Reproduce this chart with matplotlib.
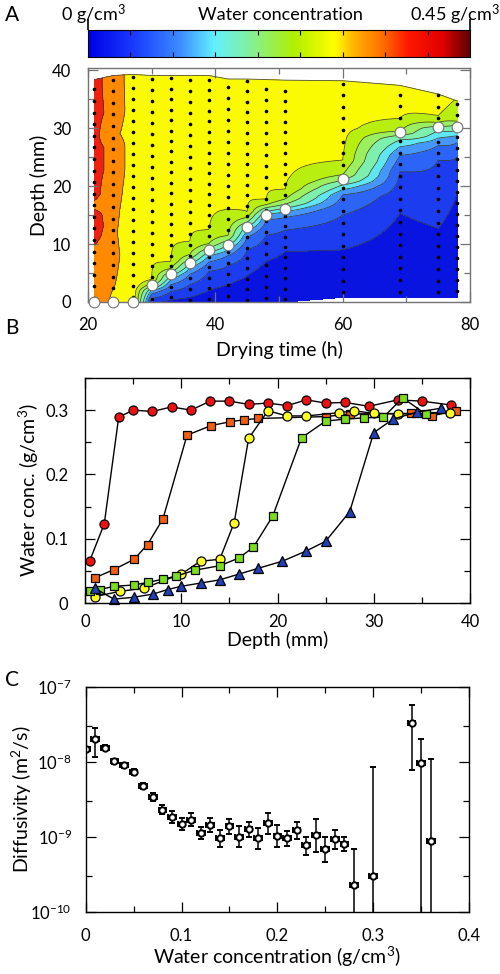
import matplotlib
matplotlib.use('Agg')
import matplotlib.pyplot as plt
import numpy as np
from matplotlib.colors import LinearSegmentedColormap
from matplotlib.ticker import MultipleLocator, FixedLocator, NullFormatter

plt.rcParams['font.family'] = ['Lato', 'DejaVu Sans']
plt.rcParams['mathtext.fontset'] = 'custom'
plt.rcParams['mathtext.rm'] = 'Lato'
plt.rcParams['mathtext.it'] = 'Lato:italic'
plt.rcParams['mathtext.bf'] = 'Lato:bold'
plt.rcParams['font.size'] = 12

nan = np.nan

# ---- panel A: water concentration map (drying time x depth)
times = np.array([21, 24, 27, 30, 33, 36, 39, 42, 45, 48, 51, 60, 69, 75, 78])
top_depth = np.array([38.4, 39.1, 39.3, 39.1, 39.1, 39.1, 39.1, 38.5, 38.5, 38.4, 38.3, 38.2, 37.4, 35.9, 34.7])
bottom_depth = np.array([0, 0, 0, 0, 0, 0, 0, 0, 0, 0, 0, 0.8, 0.8, 0.8, 0.8])
front_depth = np.array([0, 0, 0, 2.9, 4.8, 6.8, 9.0, 9.9, 13.0, 15.1, 16.0, 21.2, 29.3, 30.2, 30.2])
c_bulk = np.array([nan, nan, 0.30, 0.30, 0.30, 0.30, 0.30, 0.30, 0.30, 0.30, 0.30, 0.30, 0.30, 0.30, 0.265])
c_dry = np.array([nan, nan, 0.30, 0.05, 0.04, 0.032, 0.028, 0.022, 0.018, 0.012, 0.015, 0.018, 0.02, 0.02, 0.02])
dot_step = np.array([2.0, 2.0, 1.9, 1.9, 1.8, 1.9, 1.8, 1.9, 1.8, 1.9, 1.8, 2.0, 2.0, 2.0, 1.9])
dot_start = np.array([0.7, 0.4, 0.9, 0.5, 0.8, 0.3, 0.6, 1.0, 0.4, 0.7, 0.5, 0.9, 1.0, 0.9, 1.1])

# depth at which the profile crosses each contour level
z045 = np.array([nan, nan, nan, nan, 0.3, 0.8, 2.0, 3.0, 4.5, 7.0, 8.7, 9.0, 15.3, 12.7, 18.8])
z070 = np.array([nan, nan, nan, 0.6, 1.8, 3.0, 5.3, 6.3, 9.0, 11.5, 12.4, 15.0, 22.5, 24.5, 25.0])
z100 = np.array([nan, nan, nan, 1.4, 3.0, 4.8, 6.9, 8.0, 11.2, 14.2, 14.6, 18.5, 25.3, 27.0, 27.5])
z130 = np.array([nan, nan, nan, 2.0, 3.8, 5.8, 8.0, 9.0, 12.3, 15.2, 15.6, 19.4, 26.8, 28.3, 28.7])
z160 = np.array([nan, nan, nan, 2.3, 4.6, 6.6, 8.6, 9.8, 13.0, 15.7, 16.2, 20.2, 28.0, 29.5, 29.6])
z200 = np.array([nan, nan, nan, 2.7, 5.2, 7.4, 9.3, 10.6, 13.8, 16.3, 16.9, 21.0, 28.8, 30.3, 30.5])
z235 = np.array([nan, nan, nan, 3.2, 5.8, 8.2, 10.1, 11.5, 14.6, 16.8, 17.8, 22.0, 29.5, 31.0, 31.2])
z270 = np.array([nan, nan, nan, 3.9, 7.0, 10.5, 12.5, 16.0, 15.6, 17.8, 19.5, 24.5, 31.7, 32.2, nan])

# first two (wettest) columns
col21_depth = [0, 9, 11.5, 13, 15, 16.5, 18.5, 38.4]
col21_conc = [0.35, 0.35, 0.38, 0.39, 0.38, 0.35, 0.37, 0.37]
col24_depth = [0, 3, 8, 12, 16, 20, 23, 27, 29, 33, 38, 39.1]
col24_conc = [0.31, 0.322, 0.33, 0.325, 0.33, 0.34, 0.35, 0.35, 0.33, 0.35, 0.345, 0.345]

band_levels = [0, 0.045, 0.07, 0.10, 0.13, 0.16, 0.20, 0.235, 0.27, 0.32, 0.36, 0.45]
band_colors = ['#0a14e0', '#1c3cf0', '#2c64f8', '#4696ff', '#5ee6f2', '#7df0b0',
               '#9cf060', '#b8ef10', '#fafa00', '#ff8a00', '#ee2010']
cross_levels = band_levels[1:9]
cross_depths = [z045, z070, z100, z130, z160, z200, z235, z270]

# ---- panel B: profiles (depth mm, g/cm3)
red_depth = [0.5, 2, 3.5, 5, 7, 9, 11, 13, 15, 17, 19, 21, 23, 25, 27, 29.5, 32.5, 35, 38]
red_conc = [0.066, 0.123, 0.289, 0.300, 0.298, 0.305, 0.300, 0.314, 0.314, 0.309, 0.311,
            0.307, 0.316, 0.311, 0.312, 0.306, 0.316, 0.314, 0.308]
orange_depth = [1.0, 3.0, 5.1, 6.5, 8.1, 10.6, 13.1, 15.1, 16.5, 18.0, 25.0, 27.5, 33.9, 36.0, 38.5]
orange_conc = [0.039, 0.052, 0.068, 0.091, 0.131, 0.261, 0.276, 0.282, 0.285, 0.287,
               0.290, 0.294, 0.295, 0.291, 0.299]
yellow_depth = [1.0, 3.6, 6.1, 10.0, 12.0, 14.0, 15.5, 17.0, 19.0, 21.0, 23.0, 26.4, 27.9, 30.0, 32.5, 37.9]
yellow_conc = [0.010, 0.018, 0.023, 0.045, 0.065, 0.068, 0.125, 0.256, 0.299, 0.291,
               0.291, 0.296, 0.299, 0.295, 0.294, 0.296]
green_depth = [0.5, 1.6, 3.0, 5.1, 6.5, 8.1, 9.5, 11.4, 14.0, 16.0, 17.5, 19.5, 22.5, 25.0,
               27.0, 29.0, 31.0, 33.0, 35.4]
green_conc = [0.018, 0.021, 0.026, 0.028, 0.032, 0.037, 0.042, 0.051, 0.058, 0.070, 0.087,
              0.135, 0.257, 0.283, 0.286, 0.288, 0.289, 0.319, 0.294]
blue_depth = [1.0, 3.0, 5.1, 7.1, 8.6, 10.0, 12.0, 14.0, 16.0, 18.0, 20.5, 23.0, 25.0, 27.5,
              30.0, 32.0, 34.5, 37.0]
blue_conc = [0.023, 0.006, 0.009, 0.014, 0.021, 0.026, 0.031, 0.036, 0.045, 0.054, 0.065,
             0.081, 0.096, 0.142, 0.265, 0.286, 0.297, 0.303]

# ---- panel C: diffusivity vs water concentration
wc = [0.00, 0.01, 0.02, 0.03, 0.04, 0.05, 0.06, 0.07, 0.08, 0.09, 0.10, 0.11, 0.12, 0.13,
      0.14, 0.15, 0.16, 0.17, 0.18, 0.19, 0.20, 0.21, 0.22, 0.23, 0.24, 0.25, 0.26, 0.27,
      0.28, 0.30, 0.34, 0.35, 0.36]
diff = [1.48e-8, 2.0e-8, 1.55e-8, 1.02e-8, 9.0e-9, 7.3e-9, 4.8e-9, 3.4e-9, 2.3e-9, 1.85e-9,
        1.48e-9, 1.7e-9, 1.13e-9, 1.44e-9, 9.5e-10, 1.39e-9, 1.0e-9, 1.26e-9, 9.5e-10,
        1.54e-9, 1.02e-9, 9.5e-10, 1.23e-9, 7.7e-10, 1.05e-9, 6.8e-10, 9.3e-10, 8.0e-10,
        2.3e-10, 3.0e-10, 3.3e-8, 9.7e-9, 8.85e-10]
diff_hi = [1.59e-8, 2.84e-8, 1.66e-8, 1.1e-8, 9.8e-9, 8.0e-9, 5.3e-9, 3.85e-9, 2.65e-9, 2.2e-9,
           1.8e-9, 2.1e-9, 1.36e-9, 1.8e-9, 1.25e-9, 1.75e-9, 1.4e-9, 1.6e-9, 1.3e-9,
           2.1e-9, 1.45e-9, 1.2e-9, 1.6e-9, 1.0e-9, 1.75e-9, 1.0e-9, 1.25e-9, 1.0e-9,
           6.9e-10, 8.6e-9, 5.8e-8, 2.05e-8, 1.11e-8]
diff_lo = [1.38e-8, 1.17e-8, 1.45e-8, 0.95e-8, 8.2e-9, 6.6e-9, 4.35e-9, 3.0e-9, 2.0e-9, 1.55e-9,
           1.22e-9, 1.38e-9, 0.94e-9, 1.15e-9, 0.72e-9, 1.1e-9, 0.72e-9, 1.0e-9, 0.68e-9,
           1.08e-9, 0.72e-9, 0.75e-9, 0.93e-9, 0.58e-9, 0.63e-9, 0.46e-9, 0.69e-9, 0.64e-9,
           1e-11, 1e-11, 7.9e-9, 1e-11, 1e-11]
wc_err = 0.004

fig = plt.figure(figsize=(5.0, 9.74), dpi=100)


def px_axes(left, top, right, bottom):
    return fig.add_axes([left / 500, 1 - bottom / 974, (right - left) / 500, (bottom - top) / 974])


def style_ticks(ax, color='k'):
    ax.tick_params(which='both', direction='in', top=True, right=True, color=color, labelsize=12)
    ax.tick_params(which='major', length=7, width=0.9)
    ax.tick_params(which='minor', length=4, width=0.9)
    for sp in ax.spines.values():
        sp.set_color(color)
        sp.set_linewidth(1.0)


# colour bar
cmap = LinearSegmentedColormap.from_list('wc', [
    (0.0, '#0000e6'), (0.12, '#1a3cff'), (0.24, '#3c8cff'), (0.33, '#64f0ff'),
    (0.42, '#80f0a0'), (0.54, '#b0f000'), (0.645, '#ffff00'), (0.70, '#ffb000'),
    (0.77, '#ff7000'), (0.84, '#ff1800'), (0.93, '#e00000'), (1.0, '#600000')])
cax = px_axes(88, 30, 470, 57)
cax.imshow(np.linspace(0, 1, 256)[None, :], cmap=cmap, aspect='auto', extent=(0, 0.45, 0, 1))
cax.set_yticks([])
cax.set_xticks([0, 0.45])
cax.xaxis.set_minor_locator(MultipleLocator(0.05))
cax.tick_params(which='major', direction='out', bottom=False, top=True, length=8, width=1.2,
                labelbottom=False, labeltop=False)
cax.tick_params(which='minor', direction='in', bottom=True, top=True, length=3.5, width=0.8)
fig.text(93 / 500, 1 - 15 / 974, '0 g/cm$^3$', ha='center', va='center', fontsize=13)
fig.text(280 / 500, 1 - 15 / 974, 'Water concentration', ha='center', va='center', fontsize=13)
fig.text(455 / 500, 1 - 15 / 974, '0.45 g/cm$^3$', ha='center', va='center', fontsize=13)

# panel A
axA = px_axes(88, 68, 470, 302)
s = np.linspace(0, 1, 400)[:, None]
Z = bottom_depth + (top_depth - bottom_depth) * s
T = np.broadcast_to(times, Z.shape)
C = np.zeros_like(Z)
for i, t in enumerate(times):
    if t == 21:
        zd, cd = col21_depth, col21_conc
    elif t == 24:
        zd, cd = col24_depth, col24_conc
    else:
        zd, cd = [bottom_depth[i]], [c_dry[i]]
        for lev, zz in zip(cross_levels, cross_depths):
            if not np.isnan(zz[i]):
                zd.append(zz[i])
                cd.append(lev)
        zd.append(top_depth[i])
        cd.append(c_bulk[i])
    C[:, i] = np.interp(Z[:, i], zd, cd)

axA.contourf(T, Z, C, levels=band_levels, colors=band_colors)
axA.contour(T, Z, C, levels=band_levels[1:-1], colors='0.2', linewidths=0.5)
axA.plot(times, top_depth, color='0.3', lw=0.6)
for i, t in enumerate(times):
    zz = np.arange(bottom_depth[i] + dot_start[i], top_depth[i], dot_step[i])
    axA.plot(np.full_like(zz, t), zz, 'o', color='k', ms=2.6, mew=0)
axA.plot(times, front_depth, 'o', mfc='white', mec='0.45', ms=7.7, mew=0.8, clip_on=False, zorder=6)
axA.set_xlim(20, 80)
axA.set_ylim(0, 40.4)
axA.xaxis.set_major_locator(MultipleLocator(20))
axA.xaxis.set_minor_locator(MultipleLocator(10))
axA.yaxis.set_major_locator(MultipleLocator(10))
axA.yaxis.set_minor_locator(MultipleLocator(5))
style_ticks(axA, color='0.45')
axA.tick_params(axis='x', pad=11, labelcolor='k')
axA.tick_params(axis='y', pad=12, labelcolor='k')
axA.set_xlabel('Drying time (h)', fontsize=14)
axA.xaxis.set_label_coords(0.5, -0.165)
axA.set_ylabel('Depth (mm)', fontsize=14)
axA.yaxis.set_label_coords(-0.105, 0.5)

# panel B
axB = px_axes(85, 378, 470, 603)
series = [(red_depth, red_conc, 'o', '#ee1111', 6.5), (orange_depth, orange_conc, 's', '#f06010', 5.8),
          (yellow_depth, yellow_conc, 'o', '#ffff22', 6.5), (green_depth, green_conc, 's', '#7ae01e', 5.8),
          (blue_depth, blue_conc, '^', '#2040b8', 6.8)]
for dd, cc, mk, col, ms in series:
    axB.plot(dd, cc, '-', color='k', lw=1.0, marker=mk, mfc=col, mec='k', mew=0.9, ms=ms, clip_on=False)
axB.set_xlim(0, 40)
axB.set_ylim(0, 0.35)
axB.xaxis.set_major_locator(MultipleLocator(10))
axB.xaxis.set_minor_locator(MultipleLocator(5))
axB.set_yticks([0, 0.1, 0.2, 0.3], ['0', '0.1', '0.2', '0.3'])
axB.yaxis.set_minor_locator(MultipleLocator(0.05))
style_ticks(axB)
axB.tick_params(axis='x', pad=8)
axB.tick_params(axis='y', pad=12)
axB.set_xlabel('Depth (mm)', fontsize=14)
axB.xaxis.set_label_coords(0.5, -0.125)
axB.set_ylabel('Water conc. (g/cm$^3$)', fontsize=14)
axB.yaxis.set_label_coords(-0.115, 0.5)

# panel C
axC = px_axes(85.7, 687, 469, 911.7)
d = np.array(diff)
axC.errorbar(wc, d, xerr=wc_err, yerr=[d - np.array(diff_lo), np.array(diff_hi) - d], fmt='o',
             color='k', mfc='white', mec='k', mew=1.4, ms=4.6, elinewidth=1.1, capsize=2.2, capthick=1.1)
axC.set_yscale('log')
axC.set_xlim(0, 0.4)
axC.set_ylim(1e-10, 1e-7)
axC.set_xticks([0, 0.1, 0.2, 0.3, 0.4], ['0', '0.1', '0.2', '0.3', '0.4'])
axC.xaxis.set_minor_locator(MultipleLocator(0.05))
axC.yaxis.set_minor_locator(FixedLocator([3e-10, 3e-9, 3e-8]))
axC.yaxis.set_minor_formatter(NullFormatter())
style_ticks(axC)
axC.tick_params(axis='x', pad=12)
axC.tick_params(axis='y', pad=10)
axC.set_xlabel('Water concentration (g/cm$^3$)', fontsize=14)
axC.xaxis.set_label_coords(0.5, -0.148)
axC.set_ylabel('Diffusivity (m$^2$/s)', fontsize=14)
axC.yaxis.set_label_coords(-0.135, 0.5)

for lab, y in [('A', 15), ('B', 328), ('C', 680)]:
    fig.text(12 / 500, 1 - y / 974, lab, ha='center', va='center', fontsize=15)

fig.savefig('out.png', dpi=100)
